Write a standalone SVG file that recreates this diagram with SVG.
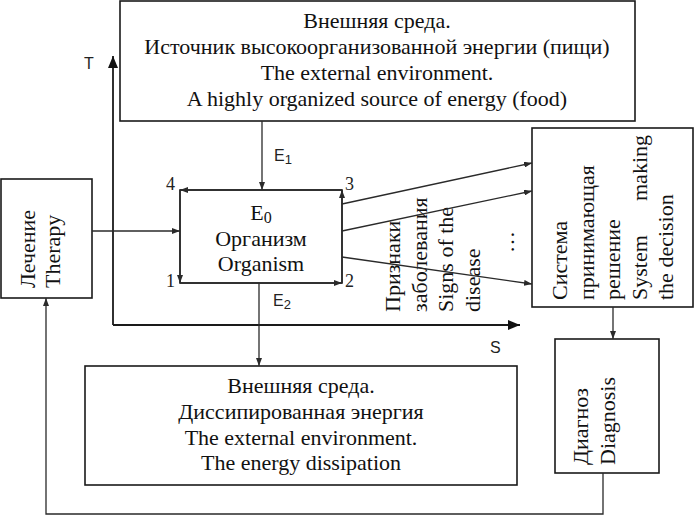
<svg xmlns="http://www.w3.org/2000/svg" width="695" height="521" viewBox="0 0 695 521">
<style>
.box{fill:#fff;stroke:#1a1a1a;stroke-width:1.6}
.ln{fill:none;stroke:#2a2a2a;stroke-width:1.3}
.ax{fill:none;stroke:#1a1a1a;stroke-width:1.8}
.t{font-family:"Liberation Serif","Times New Roman",serif;font-size:22px;fill:#111}
.c{text-anchor:middle}
.s{font-family:"Liberation Sans",Arial,sans-serif;font-size:16px;fill:#222}
.n{font-family:"Liberation Serif","Times New Roman",serif;font-size:18px;fill:#222}
</style>
<defs>
<marker id="a" markerUnits="userSpaceOnUse" markerWidth="8" markerHeight="6" refX="8" refY="3" orient="auto">
<path d="M0,0 L8,3 L0,6 z" fill="#2a2a2a"/>
</marker>
<marker id="b" markerUnits="userSpaceOnUse" markerWidth="12" markerHeight="10" refX="12" refY="5" orient="auto">
<path d="M0,0 L12,5 L0,10 z" fill="#111"/>
</marker>
</defs>
<rect width="695" height="521" fill="#fff"/>

<g id="axes">
<line class="ax" x1="113" y1="325" x2="113" y2="56" marker-end="url(#b)"/>
<line class="ax" x1="113" y1="325" x2="520" y2="325" marker-end="url(#b)"/>
<text class="s" x="84" y="69">T</text>
<text class="s" x="490" y="353">S</text>
</g>

<g id="source">
<rect class="box" x="120" y="1" width="515" height="120"/>
<text class="t c" x="377" y="28">Внешняя среда.</text>
<text class="t c" x="377" y="54">Источник высокоорганизованной энергии (пищи)</text>
<text class="t c" x="377" y="80">The external environment.</text>
<text class="t c" x="377" y="106">A highly organized source of energy (food)</text>
</g>

<g id="organism">
<rect class="box" x="180" y="190" width="162" height="93"/>
<text class="t c" x="261" y="220">E<tspan font-size="16" dy="3">0</tspan></text>
<text class="t c" x="261" y="246">Организм</text>
<text class="t c" x="261" y="271">Organism</text>
<text class="n" x="166" y="190">4</text>
<text class="n" x="345" y="190">3</text>
<text class="n" x="166" y="287">1</text>
<text class="n" x="345" y="287">2</text>
</g>

<g id="therapy">
<rect class="box" x="1" y="179" width="91" height="119"/>
<text class="t" transform="translate(35,288) rotate(-90)">Лечение</text>
<text class="t" transform="translate(60,288) rotate(-90)">Therapy</text>
</g>

<g id="decision">
<rect class="box" x="532" y="128" width="161" height="179"/>
<text class="t" transform="translate(567,300) rotate(-90)">Система</text>
<text class="t" transform="translate(593.5,300) rotate(-90)">принимающая</text>
<text class="t" transform="translate(620,300) rotate(-90)">решение</text>
<text class="t" transform="translate(646.5,300) rotate(-90)">System</text>
<text class="t" transform="translate(646.5,135) rotate(-90)" text-anchor="end">making</text>
<text class="t" transform="translate(673,300) rotate(-90)">the decision</text>
</g>

<g id="diagnosis">
<rect class="box" x="555" y="339" width="104" height="134"/>
<text class="t" transform="translate(588,465) rotate(-90)">Диагноз</text>
<text class="t" transform="translate(615,465) rotate(-90)">Diagnosis</text>
</g>

<g id="sink">
<rect class="box" x="85" y="366" width="432" height="119"/>
<text class="t c" x="301" y="393">Внешняя среда.</text>
<text class="t c" x="301" y="419">Диссипированная энергия</text>
<text class="t c" x="301" y="445">The external environment.</text>
<text class="t c" x="301" y="470">The energy dissipation</text>
</g>

<g id="signs">
<text class="t" transform="translate(400,312) rotate(-90)">Признаки</text>
<text class="t" transform="translate(426.5,312) rotate(-90)">заболевания</text>
<text class="t" transform="translate(453,312) rotate(-90)">Signs of the</text>
<text class="t" transform="translate(479.5,312) rotate(-90)">disease</text>
<text class="t" transform="translate(514,253) rotate(-90)">…</text>
</g>

<g id="connectors">
<line class="ln" x1="262" y1="121" x2="262" y2="190" marker-end="url(#a)"/>
<text class="s" x="274" y="161">E<tspan font-size="13" dy="3">1</tspan></text>
<line class="ln" x1="259" y1="283" x2="259" y2="366" marker-end="url(#a)"/>
<text class="s" x="273" y="306">E<tspan font-size="13" dy="3">2</tspan></text>
<line class="ln" x1="180" y1="283" x2="342" y2="283" marker-end="url(#a)"/>
<line class="ln" x1="342" y1="283" x2="342" y2="190" marker-end="url(#a)"/>
<line class="ln" x1="342" y1="190" x2="180" y2="190" marker-end="url(#a)"/>
<line class="ln" x1="180" y1="190" x2="180" y2="283" marker-end="url(#a)"/>
<line class="ln" x1="92" y1="231" x2="180" y2="231" marker-end="url(#a)"/>
<line class="ln" x1="342" y1="204" x2="532" y2="163" marker-end="url(#a)"/>
<line class="ln" x1="342" y1="231" x2="532" y2="191" marker-end="url(#a)"/>
<line class="ln" x1="342" y1="257" x2="532" y2="284" marker-end="url(#a)"/>
<line class="ln" x1="613" y1="307" x2="613" y2="339" marker-end="url(#a)"/>
<polyline class="ln" points="603,473 603,514 46,514 46,298" marker-end="url(#a)"/>
</g>
</svg>
